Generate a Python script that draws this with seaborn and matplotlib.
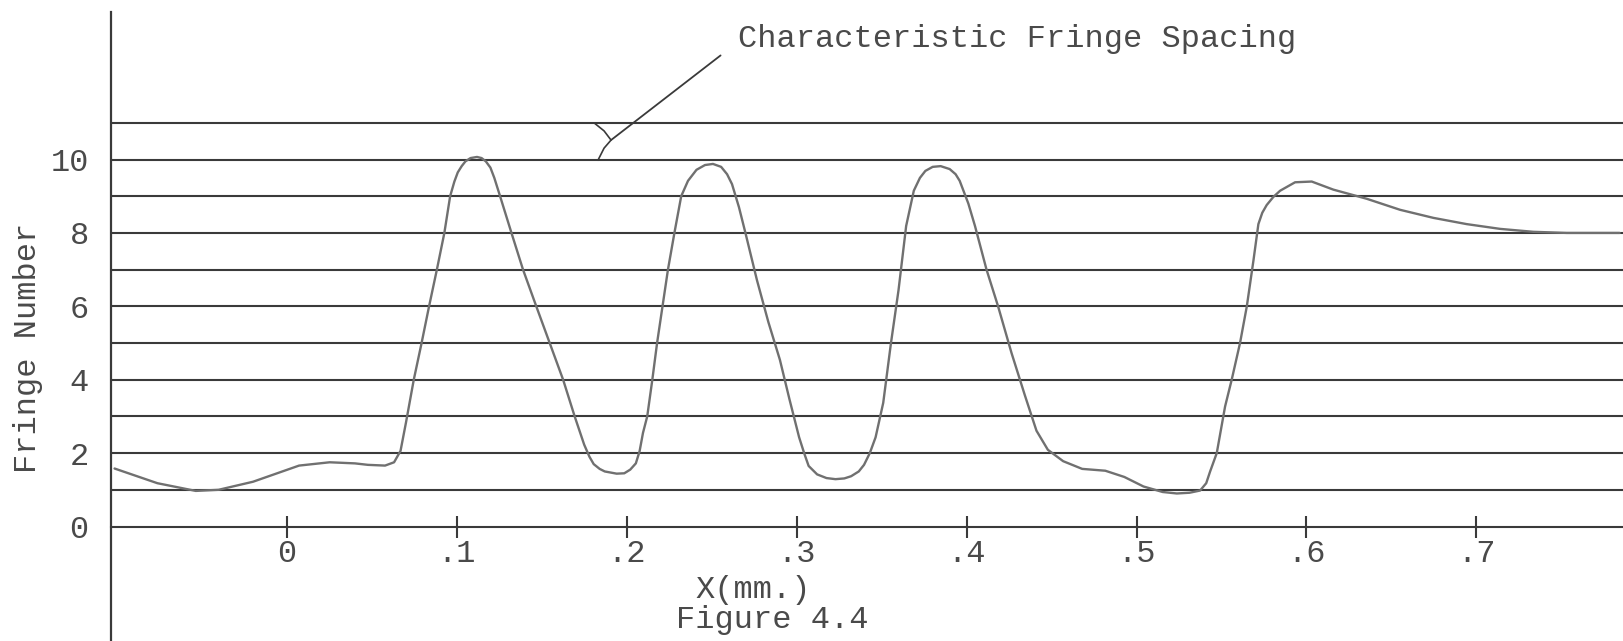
import matplotlib
matplotlib.use("Agg")
import matplotlib.pyplot as plt
import numpy as np
import pandas as pd
import seaborn as sns

# Position along the specimen (mm) and measured fringe order
x_mm = [-0.1015, -0.0763, -0.0537, -0.0403, -0.0200, 0.0071, 0.0251, 0.0400,
        0.0476, 0.0577, 0.0630, 0.0668, 0.0700, 0.0746, 0.0792, 0.0836,
        0.0882, 0.0926, 0.0960, 0.0985, 0.1005, 0.1028, 0.1050, 0.1080,
        0.1118, 0.1145, 0.1170, 0.1197, 0.1220, 0.1254, 0.1321, 0.1389,
        0.1467, 0.1546, 0.1625, 0.1693, 0.1749, 0.1780, 0.1805, 0.1840,
        0.1870, 0.1940, 0.1985, 0.2020, 0.2053, 0.2075, 0.2095, 0.2120,
        0.2150, 0.2178, 0.2210, 0.2242, 0.2280, 0.2320, 0.2360, 0.2410,
        0.2460, 0.2507, 0.2555, 0.2590, 0.2619, 0.2660, 0.2698, 0.2766,
        0.2833, 0.2901, 0.2957, 0.3014, 0.3045, 0.3070, 0.3120, 0.3175,
        0.3228, 0.3280, 0.3320, 0.3365, 0.3396, 0.3430, 0.3464, 0.3509,
        0.3554, 0.3599, 0.3644, 0.3689, 0.3725, 0.3757, 0.3800, 0.3847,
        0.3900, 0.3935, 0.3959, 0.4010, 0.4049, 0.4117, 0.4185, 0.4264,
        0.4343, 0.4411, 0.4478, 0.4568, 0.4680, 0.4816, 0.4928, 0.5041,
        0.5154, 0.5237, 0.5312, 0.5374, 0.5410, 0.5433, 0.5472, 0.5521,
        0.5560, 0.5609, 0.5649, 0.5688, 0.5717, 0.5740, 0.5766, 0.5805,
        0.5845, 0.5933, 0.6031, 0.6158, 0.6355, 0.6551, 0.6747, 0.6943,
        0.7140, 0.7336, 0.7532, 0.7843]
fringe = [1.58, 1.18, 0.97, 1.00, 1.22, 1.66, 1.75, 1.72,
          1.68, 1.66, 1.75, 2.06, 2.83, 4.00, 5.00, 6.00,
          7.00, 8.00, 9.00, 9.40, 9.65, 9.82, 9.95, 10.04,
          10.07, 10.04, 9.95, 9.78, 9.50, 9.00, 8.00, 7.00,
          6.00, 5.00, 4.00, 3.00, 2.23, 1.90, 1.70, 1.57,
          1.50, 1.44, 1.45, 1.55, 1.72, 2.05, 2.55, 3.00,
          4.00, 5.00, 6.00, 7.00, 8.00, 9.00, 9.42, 9.72,
          9.85, 9.88, 9.80, 9.60, 9.33, 8.70, 8.00, 6.71,
          5.57, 4.54, 3.47, 2.43, 1.98, 1.65, 1.42, 1.32,
          1.29, 1.31, 1.37, 1.50, 1.68, 2.00, 2.43, 3.37,
          4.98, 6.44, 8.19, 9.15, 9.50, 9.69, 9.80, 9.82,
          9.74, 9.60, 9.42, 8.80, 8.19, 7.00, 6.00, 4.73,
          3.57, 2.61, 2.09, 1.78, 1.57, 1.52, 1.35, 1.09,
          0.94, 0.90, 0.92, 0.98, 1.18, 1.50, 2.00, 3.27,
          4.00, 5.00, 6.00, 7.25, 8.24, 8.55, 8.76, 8.98,
          9.15, 9.38, 9.40, 9.18, 8.93, 8.63, 8.41, 8.24,
          8.11, 8.03, 8.00, 8.00]

fringe_levels = list(range(1, 12))
x_ticks = [0.0, 0.1, 0.2, 0.3, 0.4, 0.5, 0.6, 0.7]
x_tick_labels = ["0", ".1", ".2", ".3", ".4", ".5", ".6", ".7"]
y_ticks = [0, 2, 4, 6, 8, 10]
y_tick_labels = ["0", "2", "4", "6", "8", "10"]

# Curly brace spanning one fringe spacing (between levels 10 and 11)
brace_x = [0.1807, 0.1866, 0.1907, 0.1866, 0.1830]
brace_y = [11.00, 10.78, 10.53, 10.31, 9.98]

sns.set_theme(style="white")
plt.rcParams["font.family"] = ["Liberation Mono", "DejaVu Sans Mono"]

ink = "#3a3a3a"
pencil = "#707070"
type_ink = "#4a4a4a"
fs = 23

fig = plt.figure(figsize=(16.23, 6.41), dpi=100)
ax = fig.add_axes([111 / 1623, 0.0, 1512 / 1623, 629 / 641])
ax.set_xlim(-0.1036, 0.7863)
ax.set_ylim(-3.12, 14.02)

for lvl in fringe_levels:
    ax.axhline(lvl, color=ink, lw=1.5, zorder=1)

df = pd.DataFrame({"x": x_mm, "fringe": fringe})
sns.lineplot(data=df, x="x", y="fringe", ax=ax, color=pencil, lw=1.7,
             sort=False, estimator=None, zorder=3,
             solid_joinstyle="round", solid_capstyle="round")

# Axes: a left rule and the zero line carrying the x ticks
for side in ("top", "right"):
    ax.spines[side].set_visible(False)
ax.spines["left"].set_color(ink)
ax.spines["left"].set_linewidth(1.6)
ax.spines["bottom"].set_position(("data", 0))
ax.spines["bottom"].set_color(ink)
ax.spines["bottom"].set_linewidth(1.5)

ax.set_xticks(x_ticks)
ax.set_xticklabels(x_tick_labels)
ax.set_yticks(y_ticks)
ax.set_yticklabels(y_tick_labels)
ax.tick_params(axis="x", direction="inout", length=16, width=1.5,
               color=ink, pad=1, labelsize=fs, labelcolor=type_ink,
               bottom=True)
ax.tick_params(axis="y", length=0, pad=16, labelsize=fs,
               labelcolor=type_ink, left=True)

ax.set_xlabel("X(mm.)", fontsize=fs, color=type_ink)
ax.xaxis.label.set_va("center")
ax.xaxis.set_label_coords((753 - 111) / 1512, (641 - 590) / 629)
ax.set_ylabel("Fringe Number", fontsize=fs, color=type_ink)
ax.yaxis.label.set_va("center")
ax.yaxis.set_label_coords((28 - 111) / 1512, (641 - 348) / 629)

fig.text(772 / 1623, 1 - 620 / 641, "Figure 4.4", fontsize=fs,
         color=type_ink, ha="center", va="center")

# Leader to the fringe spacing brace
ax.plot(brace_x, brace_y, color=ink, lw=1.2, zorder=2)
ax.annotate("Characteristic Fringe Spacing",
            xy=(brace_x[2], brace_y[2]), xytext=(0.2655, 13.07),
            textcoords="data", ha="left", va="baseline",
            fontsize=fs, color=type_ink,
            arrowprops=dict(arrowstyle="-", color=ink, lw=1.3,
                            shrinkA=13, shrinkB=0, relpos=(0, 0.4)))

fig.savefig("out.png", dpi=100, facecolor="white")
